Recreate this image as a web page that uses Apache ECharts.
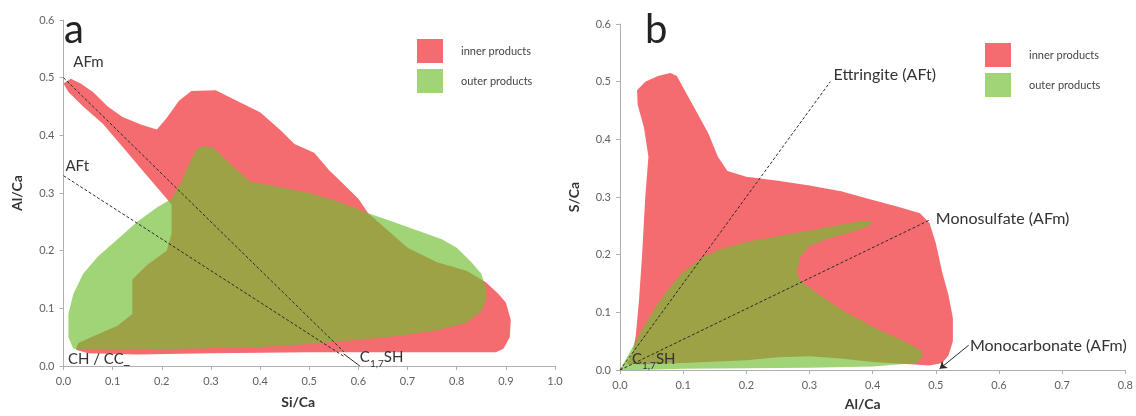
<!DOCTYPE html>
<html><head><meta charset="utf-8">
<script src="https://cdn.jsdelivr.net/npm/echarts@6/dist/echarts.min.js"></script>
<style>html,body{margin:0;padding:0;background:#fff}#c{width:1136px;height:416px}</style>
</head><body><div id="c"></div>
<script>
// ---------- data (panel a: Al/Ca vs Si/Ca) ----------
const innerA = [[0.0,0.49],[0.015,0.498],[0.035,0.49],[0.06,0.475],[0.09,0.45],[0.12,0.432],[0.16,0.418],[0.19,0.41],[0.21,0.43],[0.235,0.46],[0.26,0.477],[0.31,0.478],[0.34,0.465],[0.4,0.44],[0.44,0.41],[0.47,0.385],[0.51,0.37],[0.54,0.34],[0.57,0.315],[0.6,0.29],[0.62,0.265],[0.66,0.235],[0.7,0.205],[0.76,0.18],[0.82,0.165],[0.86,0.145],[0.885,0.125],[0.9,0.11],[0.91,0.08],[0.908,0.05],[0.895,0.03],[0.88,0.024],[0.7,0.024],[0.5,0.024],[0.3,0.022],[0.15,0.02],[0.05,0.022],[0.025,0.028],[0.03,0.04],[0.07,0.055],[0.11,0.07],[0.14,0.09],[0.14,0.15],[0.17,0.175],[0.21,0.2],[0.22,0.23],[0.22,0.28],[0.2,0.3],[0.16,0.34],[0.12,0.38],[0.08,0.42],[0.04,0.45],[0.01,0.475]];
const outerA = [[0.02,0.03],[0.01,0.05],[0.01,0.09],[0.02,0.125],[0.04,0.16],[0.07,0.19],[0.11,0.22],[0.15,0.25],[0.19,0.275],[0.22,0.29],[0.24,0.32],[0.255,0.35],[0.27,0.375],[0.285,0.382],[0.305,0.378],[0.34,0.35],[0.38,0.32],[0.44,0.31],[0.5,0.3],[0.56,0.285],[0.62,0.265],[0.67,0.25],[0.72,0.235],[0.77,0.22],[0.8,0.205],[0.83,0.18],[0.85,0.16],[0.86,0.135],[0.86,0.115],[0.85,0.095],[0.82,0.075],[0.76,0.062],[0.68,0.052],[0.6,0.045],[0.5,0.038],[0.4,0.033],[0.25,0.03],[0.1,0.028]];
const afmLineA = [[0.0,0.5],[0.57,0.025]];
const aftLineA = [[0.0,0.33],[0.57,0.017]];
const cshLeaderA = [[0.57,0.021],[0.603,0.0]];
const labelsA = [
  {text:'AFm', value:[0.02,0.527]},
  {text:'AFt', value:[0.004,0.347]},
  {text:'CH / CC\u0332', value:[0.009,0.012]},
  {text:'{c|C}{s|1,7}{c|SH}', value:[0.603,0.014]}
];
// ---------- data (panel b: S/Ca vs Al/Ca) ----------
const innerB = [[0.01,0.01],[0.02,0.03],[0.025,0.06],[0.03,0.12],[0.035,0.2],[0.04,0.3],[0.045,0.37],[0.038,0.42],[0.028,0.46],[0.027,0.485],[0.04,0.5],[0.06,0.51],[0.08,0.515],[0.09,0.51],[0.1,0.49],[0.12,0.45],[0.14,0.41],[0.155,0.37],[0.17,0.345],[0.2,0.335],[0.25,0.328],[0.3,0.32],[0.35,0.31],[0.4,0.295],[0.44,0.283],[0.475,0.272],[0.49,0.255],[0.5,0.22],[0.51,0.17],[0.52,0.13],[0.527,0.09],[0.527,0.05],[0.52,0.025],[0.51,0.012],[0.49,0.008],[0.46,0.01],[0.4,0.014],[0.35,0.02],[0.3,0.024],[0.25,0.022],[0.2,0.017],[0.1,0.012],[0.04,0.01]];
const outerB = [[0.0,0.0],[0.01,0.02],[0.025,0.05],[0.04,0.08],[0.06,0.115],[0.08,0.145],[0.1,0.17],[0.13,0.195],[0.16,0.21],[0.2,0.222],[0.25,0.232],[0.3,0.242],[0.35,0.252],[0.38,0.258],[0.4,0.258],[0.395,0.25],[0.37,0.24],[0.33,0.228],[0.3,0.215],[0.285,0.195],[0.28,0.17],[0.285,0.155],[0.31,0.135],[0.35,0.105],[0.4,0.075],[0.45,0.05],[0.475,0.035],[0.48,0.025],[0.47,0.012],[0.4,0.006],[0.3,0.004],[0.2,0.003],[0.1,0.002],[0.03,0.0]];
const ettLineB = [[0.0,0.0],[0.333,0.5]];
const monoLineB = [[0.0,0.0],[0.49,0.26]];
const monocarbArrowB = [[0.552,0.043],[0.506,0.002]];
const labelsB = [
  {text:'Ettringite (AFt)', value:[0.338,0.512]},
  {text:'Monosulfate (AFm)', value:[0.5,0.262]},
  {text:'Monocarbonate (AFm)', value:[0.554,0.042]},
  {text:'{c|C}{s|1,7}{c|SH}', value:[0.019,0.018]}
];
const seriesNames = ['inner products','outer products'];
const axisNames = {ax:'Si/Ca', ay:'Al/Ca', bx:'Al/Ca', by:'S/Ca'};
const panelLetters = ['a','b'];

// ---------- styling ----------
const FONT = 'Lato, "Liberation Sans", sans-serif';
const RED = '#f46c70';
const GREEN = 'rgba(111,190,47,0.66)';

function poly(name, pts, idx, color, z){
  return {type:'custom', name, xAxisIndex:idx, yAxisIndex:idx, data:pts, z, silent:true,
    itemStyle:{color}, encode:{x:0,y:1}, clip:false,
    renderItem:(params, api)=>{
      if(params.dataIndex!==0) return;
      return {type:'polygon', shape:{points:pts.map(p=>api.coord(p))}, style:{fill:color}};
    }};
}
function line(pts, idx, dotted){
  return {type:'line', xAxisIndex:idx, yAxisIndex:idx, data:pts, z:5, silent:true,
    symbol:'none', showSymbol:false,
    lineStyle:{color:'#2b2b2b', width:1, type: dotted?[3,2]:'solid'}, animation:false};
}
function arrow(pts, idx){
  return {type:'lines', coordinateSystem:'cartesian2d', xAxisIndex:idx, yAxisIndex:idx, z:5, silent:true,
    data:[{coords:pts}], symbol:['none','arrow'], symbolSize:7,
    lineStyle:{color:'#2b2b2b', width:1, opacity:1}, itemStyle:{color:'#2b2b2b'}};
}
const rich = {
  c:{fontSize:15, fontFamily:FONT, color:'#333', lineHeight:16, verticalAlign:'top'},
  s:{fontSize:10, fontFamily:FONT, color:'#333', lineHeight:11, padding:[9,0,0,0], verticalAlign:'top'}
};
function labels(list, idx, size){
  return {type:'custom', xAxisIndex:idx, yAxisIndex:idx, data:list.map(l=>l.value), z:6, silent:true, clip:false,
    encode:{x:0,y:1},
    renderItem:(params, api)=>{
      const p = api.coord([api.value(0), api.value(1)]);
      return {type:'text', x:p[0], y:p[1], style:{text:list[params.dataIndex].text, fontSize:size, fontFamily:FONT,
        fill:'#333', align:'left', verticalAlign:'middle', rich}};
    }};
}
function xAxis(idx, max, name, pad, gap){
  return {type:'value', gridIndex:idx, min:0, max, interval:0.1, name, nameLocation:'middle', nameGap:gap,
    nameTextStyle:{fontFamily:FONT, fontSize:14, fontWeight:'bold', color:'#333', padding:[0,pad,0,0]},
    axisLine:{lineStyle:{color:'#b0b0b0'}}, axisTick:{show:true, length:4, lineStyle:{color:'#b0b0b0'}},
    axisLabel:{color:'#606060', fontSize:11, fontFamily:FONT, margin:10, formatter:v=>v.toFixed(1)},
    splitLine:{show:false}};
}
function yAxis(idx, name){
  return {type:'value', gridIndex:idx, min:0, max:0.6, interval:0.1, name, nameLocation:'middle', nameGap:39,
    nameTextStyle:{fontFamily:FONT, fontSize:14, fontWeight:'bold', color:'#333'},
    axisLine:{show:true, lineStyle:{color:'#b0b0b0'}}, axisTick:{show:true, length:4, lineStyle:{color:'#b0b0b0'}},
    axisLabel:{color:'#606060', fontSize:11, fontFamily:FONT, margin:9, formatter:v=>v.toFixed(1)},
    splitLine:{show:false}};
}
function legend(left, top){
  return {orient:'vertical', left, top, padding:0, itemWidth:26, itemHeight:24, itemGap:6, icon:'rect',
    data:seriesNames, selectedMode:false,
    textStyle:{fontFamily:FONT, fontSize:11, color:'#444', padding:[0,0,0,13]}};
}

const chart = echarts.init(document.getElementById('c'), null, {renderer:'canvas'});
chart.setOption({
  animation:false,
  backgroundColor:'#fff',
  grid:[
    {left:63.5, top:20, width:491.5, height:346},
    {left:620, top:24, width:513, height:346}
  ],
  xAxis:[xAxis(0,1.0,axisNames.ax,22,29), xAxis(1,0.8,axisNames.bx,20,27)],
  yAxis:[yAxis(0,axisNames.ay), yAxis(1,axisNames.by)],
  legend:[legend(417,39), legend(985,43)],
  graphic:[
    {type:'text', left:64, top:10, style:{text:panelLetters[0], font:'40px '+FONT, fill:'#222'}},
    {type:'text', left:645, top:10, style:{text:panelLetters[1], font:'40px '+FONT, fill:'#222'}}
  ],
  series:[
    poly(seriesNames[0], innerA, 0, RED, 1),
    poly(seriesNames[1], outerA, 0, GREEN, 2),
    line(afmLineA, 0, true), line(aftLineA, 0, true), line(cshLeaderA, 0, false),
    labels(labelsA, 0, 15),
    poly(seriesNames[0], innerB, 1, RED, 1),
    poly(seriesNames[1], outerB, 1, GREEN, 2),
    line(ettLineB, 1, true), line(monoLineB, 1, true), arrow(monocarbArrowB, 1),
    labels(labelsB, 1, 16)
  ]
});
</script></body></html>
